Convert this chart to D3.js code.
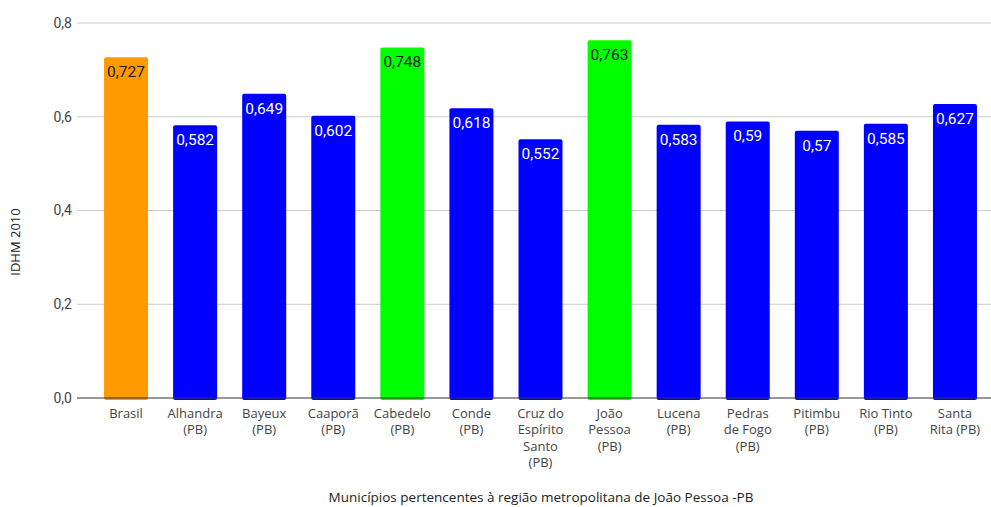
<!DOCTYPE html>
<html>
<head>
<meta charset="utf-8">
<script src="https://cdn.jsdelivr.net/npm/d3@7"></script>
<style>
  html, body { margin: 0; padding: 0; background: #fff; }
  svg { display: block; }
</style>
</head>
<body>
<svg id="chart" width="991" height="507"></svg>
<script>
// IDHM 2010 — municípios da região metropolitana de João Pessoa
const categories = [
  "Brasil", "Alhandra\n(PB)", "Bayeux\n(PB)", "Caaporã\n(PB)", "Cabedelo\n(PB)",
  "Conde\n(PB)", "Cruz do\nEspírito\nSanto\n(PB)", "João\nPessoa\n(PB)", "Lucena\n(PB)",
  "Pedras\nde Fogo\n(PB)", "Pitimbu\n(PB)", "Rio Tinto\n(PB)", "Santa\nRita (PB)"
];
const values = [0.727, 0.582, 0.649, 0.602, 0.748, 0.618, 0.552, 0.763, 0.583, 0.59, 0.57, 0.585, 0.627];
const groups = ["pais", "mun", "mun", "mun", "destaque", "mun", "mun", "destaque", "mun", "mun", "mun", "mun", "mun"];
const yTicks = [0, 0.2, 0.4, 0.6, 0.8];
const yTitle = "IDHM 2010";
const xTitle = "Municípios pertencentes à região metropolitana de João Pessoa -PB";

const fillColor = { pais: "#ff9900", mun: "#0000ff", destaque: "#00ff00" };
const labelColor = { pais: "#1a1a1a", mun: "#ffffff", destaque: "#1a1a1a" };

const svg = d3.select("#chart");
const fmt = v => String(v).replace(".", ",");
const fmtTick = v => d3.format(".1f")(v).replace(".", ",");

const x = d3.scaleBand()
  .domain(categories)
  .range([91.5, 989.5])
  .paddingInner(0.363)
  .paddingOuter(0.1815);

const y = d3.scaleLinear().domain([0, 0.8]).range([398, 23]);

// gridlines
svg.append("g")
  .selectAll("line")
  .data(yTicks.filter(t => t > 0))
  .join("line")
  .attr("x1", 77).attr("x2", 991)
  .attr("y1", d => y(d)).attr("y2", d => y(d))
  .attr("stroke", "#cccccc").attr("stroke-width", 1);

// y tick labels
svg.append("g")
  .selectAll("text")
  .data(yTicks)
  .join("text")
  .attr("x", 72)
  .attr("y", d => y(d))
  .attr("dy", "0.35em")
  .attr("text-anchor", "end")
  .attr("font-family", "Roboto, sans-serif")
  .attr("font-size", 14)
  .attr("fill", "#444")
  .text(fmtTick);

// bars
const data = categories.map((c, i) => ({ c, v: values[i], g: groups[i] }));
svg.append("g")
  .selectAll("rect")
  .data(data)
  .join("rect")
  .attr("x", d => x(d.c))
  .attr("y", d => y(d.v))
  .attr("width", x.bandwidth())
  .attr("height", d => y(0) - y(d.v) + 2)
  .attr("rx", 2)
  .attr("fill", d => fillColor[d.g]);

// baseline
svg.append("line")
  .attr("x1", 77).attr("x2", 991)
  .attr("y1", y(0)).attr("y2", y(0))
  .attr("stroke", "#333").attr("stroke-width", 1);

// value labels
svg.append("g")
  .selectAll("text")
  .data(data)
  .join("text")
  .attr("x", d => x(d.c) + x.bandwidth() / 2)
  .attr("y", d => y(d.v) + 20)
  .attr("text-anchor", "middle")
  .attr("font-family", "Roboto, sans-serif")
  .attr("font-size", 15.5)
  .attr("fill", d => labelColor[d.g])
  .text(d => fmt(d.v));

// category labels
const xl = svg.append("g")
  .selectAll("text")
  .data(categories)
  .join("text")
  .attr("x", d => x(d) + x.bandwidth() / 2)
  .attr("y", 418)
  .attr("text-anchor", "middle")
  .attr("font-family", "'Open Sans', sans-serif")
  .attr("font-size", 13)
  .attr("fill", "#444");
xl.each(function(d) {
  const t = d3.select(this);
  d.split("\n").forEach((line, i) => {
    t.append("tspan")
      .attr("x", x(d) + x.bandwidth() / 2)
      .attr("dy", i === 0 ? 0 : 16.3)
      .text(line);
  });
});

// axis titles
svg.append("text")
  .attr("transform", "translate(20,242) rotate(-90)")
  .attr("text-anchor", "middle")
  .attr("font-family", "'Open Sans', sans-serif")
  .attr("font-size", 13)
  .attr("fill", "#222")
  .text(yTitle);

svg.append("text")
  .attr("x", 541)
  .attr("y", 502)
  .attr("text-anchor", "middle")
  .attr("font-family", "'Open Sans', sans-serif")
  .attr("font-size", 13.5)
  .attr("fill", "#222")
  .text(xTitle);
</script>
</body>
</html>
